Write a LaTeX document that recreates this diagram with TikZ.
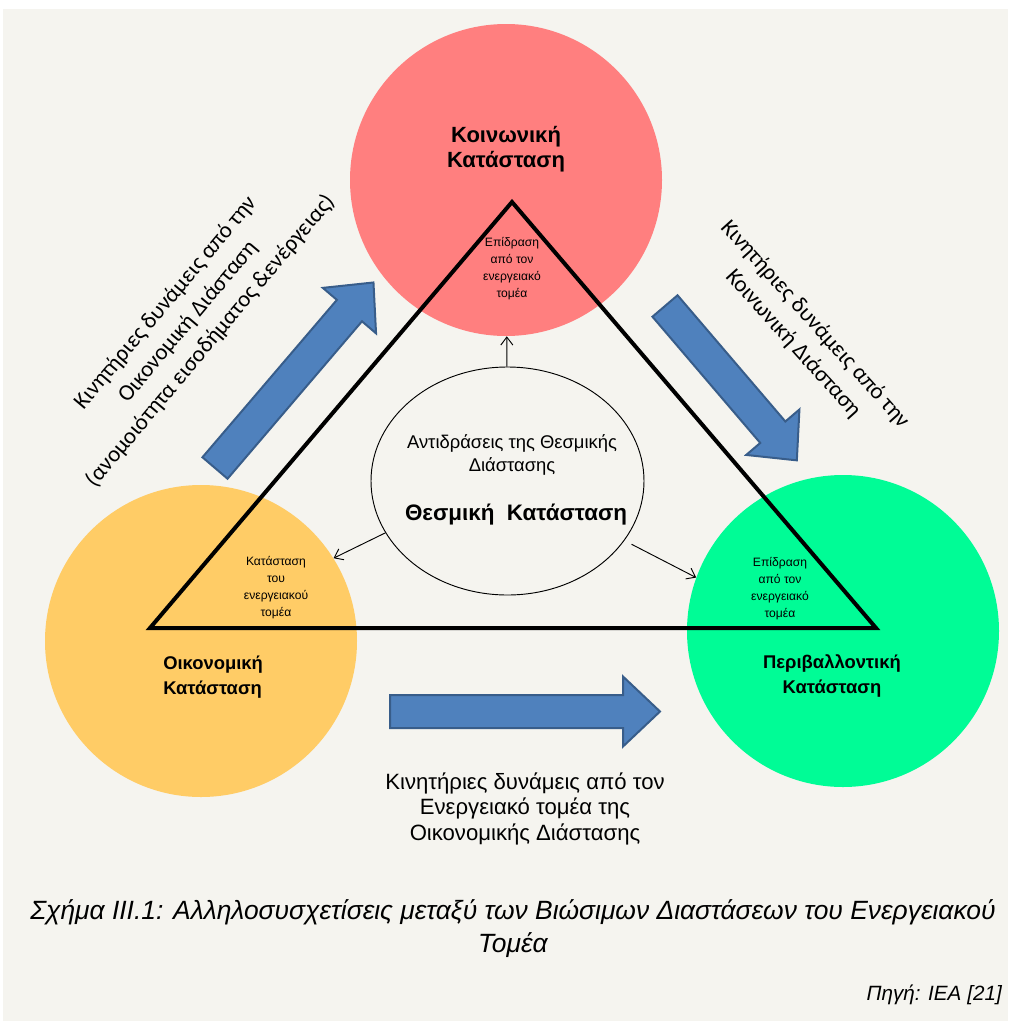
\documentclass[tikz,border=0pt]{standalone}
\usepackage{fontspec}
\setmainfont{Liberation Sans}
\newfontfamily\calfont{Carlito}
\usetikzlibrary{arrows.meta,shapes.geometric}

\definecolor{bgpaper}{RGB}{245,244,239}
\definecolor{socialred}{RGB}{255,127,127}
\definecolor{econyellow}{RGB}{255,204,102}
\definecolor{envgreen}{RGB}{0,252,150}
\definecolor{flowblue}{RGB}{79,129,189}
\definecolor{flowedge}{RGB}{56,93,138}

\tikzset{
  pics/blockarrow/.style={code={
    \filldraw[fill=flowblue, draw=flowedge, line width=1.5pt, line join=miter]
      (0,-16.5) -- (#1-37,-16.5) -- (#1-37,-35) -- (#1,0) -- (#1-37,35)
      -- (#1-37,16.5) -- (0,16.5) -- cycle;
  }}
}

\begin{document}
\begin{tikzpicture}[x=0.75pt,y=-0.75pt,
  statedisc/.style={circle, minimum size={312*0.75pt}, inner sep=0pt, draw=none},
  statetitle/.style={font=\bfseries\fontsize{13.8}{19}\selectfont, align=center, inner sep=0pt},
  smalltext/.style={font=\fontsize{9.1}{12.75}\selectfont, align=center},
  drivetext/.style={font=\calfont\fontsize{17.2}{22}\selectfont, align=center},
  triline/.style={line width=3pt, line join=miter},
  link/.style={line width=0.7pt, -{Straight Barb[length=6pt,width=9pt]}}
]
% paper
\fill[white] (0,0) rectangle (1008,1021);
\fill[bgpaper] (3,9) rectangle (1008,1021);

% the three dimensions
\node[statedisc, fill=socialred]  (soc) at (506,180) {};
\node[statedisc, fill=econyellow] (eco) at (201,641) {};
\node[statedisc, fill=envgreen]   (env) at (843,631) {};

% energy-sector triangle
\coordinate (apex)  at (512,202);
\coordinate (left)  at (150,628);
\coordinate (right) at (876,628);
\draw[triline] (apex) -- (right) -- (left) -- cycle;

% institutional dimension
\node[ellipse, draw, line width=0.7pt, minimum width={273*0.75pt},
      minimum height={228*0.75pt}, inner sep=0pt] (inst) at (507.5,481) {};
\node[font=\fontsize{13.8}{17.25}\selectfont, align=center] (react) at (512,455)
  {Αντιδράσεις της Θεσμικής\\Διάστασης};
\node[font=\bfseries\fontsize{16.8}{18}\selectfont] (insttitle) at (516,515)
  {Θεσμική\ \ Κατάσταση};

\draw[link] (inst) -- (soc);
\draw[link] (inst.203) -- (eco.32);
\draw[link, shorten <=6pt] (inst.333) -- (env.160);

% state titles
\node[statetitle, font=\bfseries\fontsize{16.5}{19}\selectfont] (soctitle) at (506,149)
  {Κοινωνική\\Κατάσταση};
\node[statetitle, align=left, anchor=west] (ecotitle) at (163,677) {Οικονομική\\Κατάσταση};
\node[statetitle] (envtitle) at (832,676) {Περιβαλλοντική\\Κατάσταση};

% notes at the triangle corners
\node[smalltext] (socnote) at (512,269) {Επίδραση\\από τον\\ενεργειακό\\τομέα};
\node[smalltext] (econote) at (276,588) {Κατάσταση\\του\\ενεργειακού\\τομέα};
\node[smalltext] (envnote) at (780,589) {Επίδραση\\από τον\\ενεργειακό\\τομέα};

% driving forces
\pic[rotate=49.5] at (215,468) {blockarrow=244};
\pic[rotate=-49.5] at (665,306) {blockarrow=203};
\pic at (390,711.5) {blockarrow=270};

\node[drivetext, rotate=50] (ecodrive) at (188,322)
  {Κινητήριες δυνάμεις από την\\Οικονομική Διάσταση\\(ανομοιότητα εισοδήματος \&ενέργειας)};
\node[drivetext, rotate=-48] (socdrive) at (804,334)
  {Κινητήριες δυνάμεις από την\\Κοινωνική Διάσταση};
\node[font=\fontsize{16.6}{19.1}\selectfont, align=center] (endrive) at (525,808.5)
  {Κινητήριες δυνάμεις από τον\\Ενεργειακό τομέα της\\Οικονομικής Διάστασης};

% caption and source
\node[font=\itshape\fontsize{19.8}{24.75}\selectfont, align=center] (caption) at (513,928.5)
  {Σχήμα ΙΙΙ.1: Αλληλοσυσχετίσεις μεταξύ των Βιώσιμων Διαστάσεων του Ενεργειακού\\Τομέα};
\node[font=\itshape\fontsize{15.5}{17}\selectfont, anchor=east, inner sep=0pt] (source) at (1002,995)
  {Πηγή: ΙΕΑ [21]};
\end{tikzpicture}
\end{document}
